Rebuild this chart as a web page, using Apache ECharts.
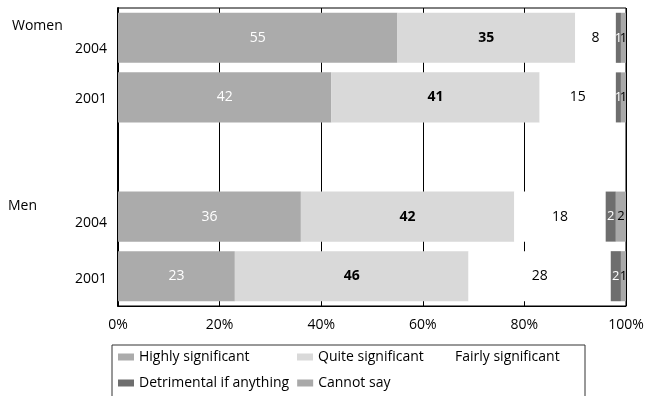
<!DOCTYPE html>
<html>
<head>
<meta charset="utf-8">
<script src="https://cdn.jsdelivr.net/npm/echarts@6/dist/echarts.min.js"></script>
<style>html,body{margin:0;padding:0;background:#fff}#c{width:647px;height:396px}</style>
</head>
<body>
<div id="c"></div>
<script>
// ---- data ----
var categories = ['2004', '2001', '', '2004', '2001'];
var groups = ['Women', 'Men'];
var seriesNames = ['Highly significant', 'Quite significant', 'Fairly significant', 'Detrimental if anything', 'Cannot say'];
var highly      = [55, 42, null, 36, 23];
var quite       = [35, 41, null, 42, 46];
var fairly      = [8, 15, null, 18, 28];
var detrimental = [1, 1, null, 2, 2];
var cannotSay   = [1, 1, null, 2, 1];
var xTicks = [0, 20, 40, 60, 80, 100];

// ---- styling ----
var FONT = 'Open Sans';
var colors = ['#ababab', '#d9d9d9', '#ffffff', '#6e6e6e', '#a9a9a9'];
var labelColors = ['#ffffff', '#000000', '#000000', '#ffffff', '#000000'];
var labelWeights = ['normal', 'bold', 'normal', 'normal', 'normal'];
var labelSizes = [14, 14, 14, 13, 13];
var labelShift = [22, 4, 0, 12, 6];
var values = [highly, quite, fairly, detrimental, cannotSay];

var chart = echarts.init(document.getElementById('c'), null, {renderer: 'canvas'});

var series = seriesNames.map(function (name, i) {
  return {
    name: name,
    type: 'bar',
    stack: 'total',
    barCategoryGap: '16%',
    data: values[i],
    itemStyle: {color: colors[i]},
    label: {
      show: true,
      position: 'inside',
      color: labelColors[i],
      fontFamily: FONT,
      fontSize: labelSizes[i],
      fontWeight: labelWeights[i]
    },
    emphasis: {disabled: true},
    silent: true
  };
});

var legendWidths = [150, 108, 124, 150, 100];

var rich = {};
labelShift.forEach(function (s, i) {
  rich['s' + i] = {padding: [s, 0, 0, 0], color: '#000', fontFamily: FONT, fontSize: 14};
});

chart.setOption({
  animation: false,
  backgroundColor: '#fff',
  grid: {left: 118, right: 21, top: 8, bottom: 90, show: true, borderColor: '#000', borderWidth: 1},
  xAxis: {
    type: 'value', min: xTicks[0], max: xTicks[xTicks.length - 1], interval: 20,
    axisLine: {show: true, lineStyle: {color: '#000', width: 1}},
    axisTick: {show: false},
    splitLine: {show: true, lineStyle: {color: '#000', width: 1}},
    axisLabel: {formatter: '{value}%', color: '#000', fontFamily: FONT, fontSize: 14, margin: 12}
  },
  yAxis: {
    type: 'category', inverse: true,
    data: categories,
    axisLine: {show: true, lineStyle: {color: '#000', width: 2}},
    axisTick: {show: false},
    axisLabel: {
      color: '#000', fontFamily: FONT, fontSize: 14, margin: 11,
      formatter: function (v, i) { return v ? '{s' + i + '|' + v + '}' : ''; },
      rich: rich
    }
  },
  legend: {
    left: 112, top: 345, width: 470,
    padding: [3, 6, 60, 6],
    borderColor: '#333', borderWidth: 1,
    itemWidth: 16, itemHeight: 7, itemGap: 8,
    icon: 'rect',
    textStyle: {color: '#000', fontFamily: FONT, fontSize: 14, lineHeight: 18},
    data: seriesNames.map(function (n, i) {
      return {name: n, textStyle: {width: legendWidths[i]}};
    })
  },
  graphic: [
    {type: 'text', left: 12, top: 19, style: {text: groups[0], fontFamily: FONT, fontSize: 14, fill: '#000'}},
    {type: 'text', left: 8, top: 199, style: {text: groups[1], fontFamily: FONT, fontSize: 14, fill: '#000'}}
  ],
  series: series
});
</script>
</body>
</html>
